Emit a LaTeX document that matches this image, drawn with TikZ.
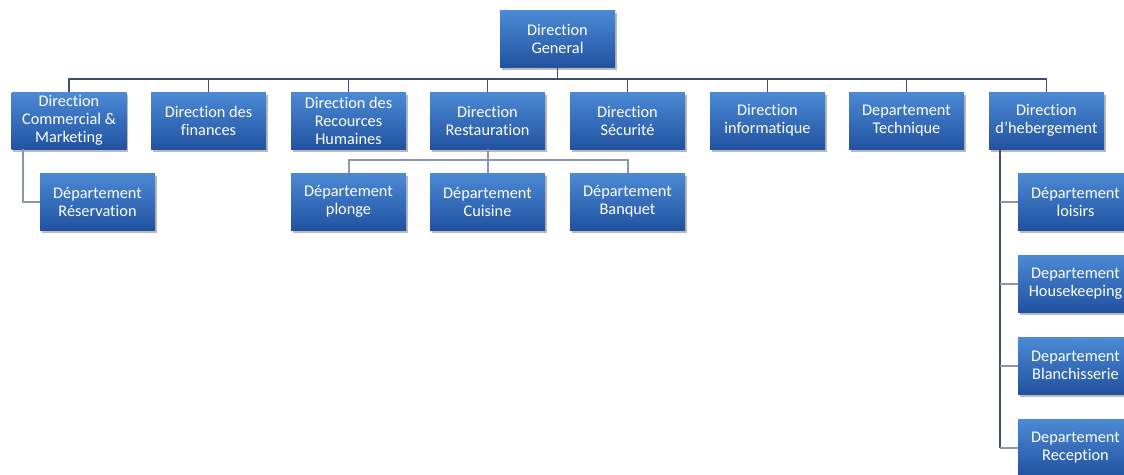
\documentclass[tikz,border=0pt]{standalone}
\usepackage{fontspec}
\setmainfont{Carlito}[Ligatures=NoCommon]
\usetikzlibrary{shadows}
\definecolor{boxtop}{HTML}{4C8AD6}
\definecolor{boxbot}{HTML}{2152A0}
\definecolor{linedark}{HTML}{3F4F6C}
\definecolor{linelight}{HTML}{8A95B0}
\tikzset{
  orgbox/.style={rectangle, minimum width=115pt, minimum height=57pt, inner sep=0pt,
    top color=boxtop, bottom color=boxbot, draw=none, text=white, align=center,
    font=\fontsize{16.3}{18}\selectfont,
    drop shadow={shadow xshift=1.5pt, shadow yshift=-2.5pt, fill=black!45, opacity=0.6}},
  mainline/.style={draw=linedark, line width=1.8pt},
  subline/.style={draw=linelight, line width=2pt}
}
\begin{document}
\begin{tikzpicture}[x=1pt,y=-1pt]
\useasboundingbox (0,0) rectangle (1124,474);
\begin{scope}
\clip (0,0) rectangle (1124,474);
\coordinate (busL) at (69,79);
\coordinate (busR) at (1046,79);
\node[orgbox] (dg) at (557.5,38.5) {Direction\\General};
\node[orgbox] (com) at (69,120.5) {Direction\\Commercial \&\\Marketing};
\node[orgbox] (fin) at (208.5,120.5) {Direction des\\finances};
\node[orgbox] (rh) at (348.5,120.5) {Direction des\\Recources\\Humaines};
\node[orgbox] (rest) at (487.5,120.5) {Direction\\Restauration};
\node[orgbox] (sec) at (627.5,120.5) {Direction\\Sécurité};
\node[orgbox] (info) at (767.5,120.5) {Direction\\informatique};
\node[orgbox] (tech) at (906.5,120.5) {Departement\\Technique};
\node[orgbox] (heb) at (1046.5,120.5) {Direction\\d’hebergement};
\node[orgbox] (res) at (97.5,201.5) {Département\\Réservation};
\node[orgbox] (plo) at (348.5,201.5) {Département\\plonge};
\node[orgbox] (cui) at (487.5,201.5) {Département\\Cuisine};
\node[orgbox] (ban) at (627.5,201.5) {Département\\Banquet};
\node[orgbox] (loi) at (1075.5,201.5) {Département\\loisirs};
\node[orgbox] (hou) at (1075.5,283.5) {Departement\\Housekeeping};
\node[orgbox] (bla) at (1075.5,365.5) {Departement\\Blanchisserie};
\node[orgbox] (rec) at (1075.5,447.5) {Departement\\Reception};
% main bus
\draw[mainline] (dg.south) -- (dg.south |- busL);
\draw[mainline] ([xshift=-0.9pt]busL) -- ([xshift=0.9pt]busR);
\foreach \n in {com,fin,rh,rest,sec,info,tech,heb}{
  \draw[mainline] (\n.north |- busL) -- (\n.north);
}
% commercial -> reservation
\draw[subline] (com.south -| 23,0) |- (res.west);
% restauration children
\coordinate (rbus) at (0,160);
\draw[subline] (rest.south) -- (rest.south |- rbus);
\draw[subline] ([xshift=-1pt]plo.north |- rbus) -- ([xshift=1pt]ban.north |- rbus);
\foreach \n in {plo,cui,ban}{
  \draw[subline] (\n.north |- rbus) -- (\n.north);
}
% hebergement children
\draw[mainline] (heb.south -| 1000,0) -- (1000,447.5);
\foreach \n in {loi,hou,bla,rec}{
  \draw[subline] (1000,0 |- \n.west) -- (\n.west);
}
\end{scope}
\end{tikzpicture}
\end{document}
